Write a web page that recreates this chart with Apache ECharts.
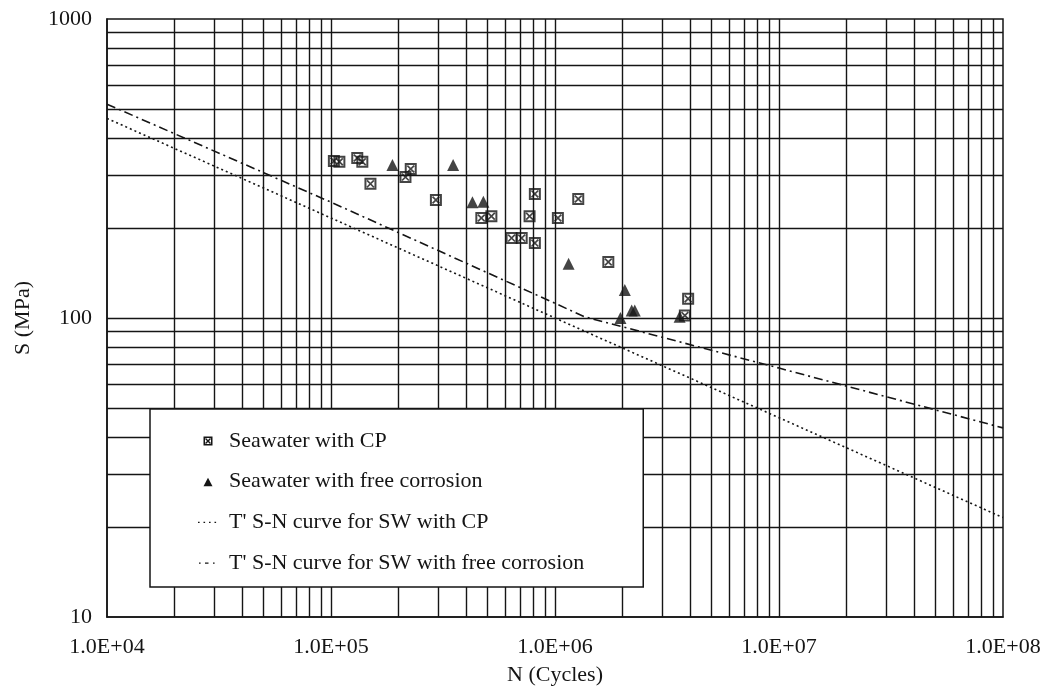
<!DOCTYPE html>
<html>
<head>
<meta charset="utf-8">
<script src="https://cdn.jsdelivr.net/npm/echarts@6/dist/echarts.min.js"></script>
<style>
html,body{margin:0;padding:0;background:#fff;}
#chart{width:1055px;height:697px;}
</style>
</head>
<body>
<div id="chart"></div>
<script>
// ---- data ----
const cpN = [1.03e5, 1.09e5, 1.31e5, 1.38e5, 1.50e5, 2.15e5, 2.27e5, 2.94e5, 4.69e5, 5.2e5, 6.4e5, 7.1e5, 7.7e5, 8.13e5, 8.13e5, 1.03e6, 1.27e6, 1.73e6, 3.8e6, 3.93e6];
const cpS = [335, 333, 343, 333, 281, 296, 315, 248, 216, 219, 185, 185, 219, 260, 178, 216, 250, 154, 102, 116];

const fcN = [1.88e5, 3.51e5, 4.28e5, 4.79e5, 1.15e6, 1.96e6, 2.05e6, 2.2e6, 2.27e6, 3.6e6];
const fcS = [325, 325, 244, 245, 152, 100, 124, 106, 106, 101];

const cpCurveN = [1e4, 1e5, 1e6, 1.35e6, 1e7, 1e8];
const cpCurveS = [519, 244, 112, 101, 68, 42.9];

const fcCurveN = [1e4, 1e5, 1e6, 1e7, 1e8];
const fcCurveS = [465, 216, 100, 46.4, 21.5];

const xTickLabels = ['1.0E+04', '1.0E+05', '1.0E+06', '1.0E+07', '1.0E+08'];
const yTickLabels = ['10', '100', '1000'];

const seriesNames = ['Seawater with CP', 'Seawater with free corrosion', "T' S-N curve for SW with CP", "T' S-N curve for SW with free corrosion"];

// grid line positions (log paper: 1..9 per decade)
const mantissas = [1, 2, 3, 4, 5, 6, 7, 8, 9];
const xDecades = [1e4, 1e5, 1e6, 1e7];
const yDecades = [10, 100];
const xGridValues = xDecades.flatMap(d => mantissas.map(m => m * d)).filter(v => v > 1e4);
const yGridValues = yDecades.flatMap(d => mantissas.map(m => m * d)).filter(v => v > 10);

const zip = (a, b) => a.map((v, i) => [v, b[i]]);

const FONT = 'Liberation Serif';
const INK = '#151515';

const cpSymbol = 'path://M0 0 H12 V12 H0 Z M2 2 V10 H10 V2 Z M2 3.2 L3.2 2 L10 8.8 L8.8 10 Z M8.8 2 L10 3.2 L3.2 10 L2 8.8 Z';

// legend icons drawn in a 20x10 box (corner points fix the box)
const BOX = 'M0 0 L0 0 M20 10 L20 10 ';
const cpLegendIcon = 'path://' + BOX + 'M5.5 0.5 H14.5 V9.5 H5.5 Z M7 2 V8 H13 V2 Z M7 3 L8 2 L13 7 L12 8 Z M12 2 L13 3 L8 8 L7 7 Z';
const fcLegendIcon = 'path://' + BOX + 'M10 1 L14.5 9.5 L5.5 9.5 Z';
const cpLineIcon = 'path://' + BOX + 'M0 4.3 H1.6 V5.7 H0 Z M5.5 4.3 H7.1 V5.7 H5.5 Z M11 4.3 H12.6 V5.7 H11 Z M16.5 4.3 H18.1 V5.7 H16.5 Z';
const fcLineIcon = 'path://' + BOX + 'M1 4.3 H2.6 V5.7 H1 Z M7 4.3 H10.5 V5.7 H7 Z M15 4.3 H16.6 V5.7 H15 Z';

const chart = echarts.init(document.getElementById('chart'), null, {renderer: 'canvas'});

const gridMarks = [
  ...xGridValues.map(v => ({xAxis: v})),
  ...yGridValues.map(v => ({yAxis: v}))
];

chart.setOption({
  animation: false,
  backgroundColor: '#fff',
  grid: {
    left: 107, right: 52, top: 19, bottom: 80,
    show: true, borderColor: INK, borderWidth: 1.5, backgroundColor: '#fff'
  },
  xAxis: {
    type: 'log', logBase: 10, min: 1e4, max: 1e8,
    name: 'N (Cycles)', nameLocation: 'middle', nameGap: 47,
    nameTextStyle: {fontFamily: FONT, fontSize: 22, color: INK},
    axisLine: {show: true, lineStyle: {color: INK, width: 1.5}},
    axisTick: {show: false},
    splitLine: {show: false},
    axisLabel: {
      fontFamily: FONT, fontSize: 22, color: INK, margin: 19,
      formatter: v => xTickLabels[Math.round(Math.log10(v)) - 4] || ''
    }
  },
  yAxis: {
    type: 'log', logBase: 10, min: 10, max: 1000,
    name: 'S (MPa)', nameLocation: 'middle', nameGap: 73,
    nameTextStyle: {fontFamily: FONT, fontSize: 22, color: INK},
    axisLine: {show: true, lineStyle: {color: INK, width: 1.5}},
    axisTick: {show: false},
    splitLine: {show: false},
    axisLabel: {
      fontFamily: FONT, fontSize: 22, color: INK, margin: 15,
      formatter: v => yTickLabels[Math.round(Math.log10(v)) - 1] || ''
    }
  },
  legend: {
    orient: 'vertical', left: 150, top: 409, z: 20,
    padding: [21, 59, 13, 48],
    itemWidth: 20, itemHeight: 10, itemGap: 18.7,
    backgroundColor: '#fff', borderColor: INK, borderWidth: 1.5,
    textStyle: {fontFamily: FONT, fontSize: 22, color: INK, padding: [0, 0, 0, 6]},
    selectedMode: false,
    data: [
      {name: seriesNames[0], icon: cpLegendIcon, itemStyle: {color: INK, opacity: 1}},
      {name: seriesNames[1], icon: fcLegendIcon, itemStyle: {color: INK, opacity: 1}},
      {name: seriesNames[2], icon: cpLineIcon, itemStyle: {color: INK, opacity: 1}},
      {name: seriesNames[3], icon: fcLineIcon, itemStyle: {color: INK, opacity: 1}}
    ]
  },
  series: [
    {
      name: 'grid', type: 'line', data: [], z: 1, silent: true,
      markLine: {
        silent: true, symbol: ['none', 'none'], animation: false,
        label: {show: false},
        lineStyle: {color: INK, width: 1.4, type: 'solid'},
        emphasis: {disabled: true},
        data: gridMarks
      }
    },
    {
      name: seriesNames[2], type: 'line', z: 3,
      data: zip(cpCurveN, cpCurveS), symbol: 'none',
      itemStyle: {color: INK},
      lineStyle: {color: INK, width: 1.6, type: [9, 4, 2, 4]}
    },
    {
      name: seriesNames[3], type: 'line', z: 3,
      data: zip(fcCurveN, fcCurveS), symbol: 'none',
      itemStyle: {color: INK},
      lineStyle: {color: INK, width: 1.6, type: [2, 3]}
    },
    {
      name: seriesNames[0], type: 'scatter', z: 4,
      data: zip(cpN, cpS), symbol: cpSymbol, symbolSize: 12,
      itemStyle: {color: INK}
    },
    {
      name: seriesNames[1], type: 'scatter', z: 4,
      data: zip(fcN, fcS), symbol: 'triangle', symbolSize: [12, 12],
      itemStyle: {color: INK}
    }
  ]
});
</script>
</body>
</html>
